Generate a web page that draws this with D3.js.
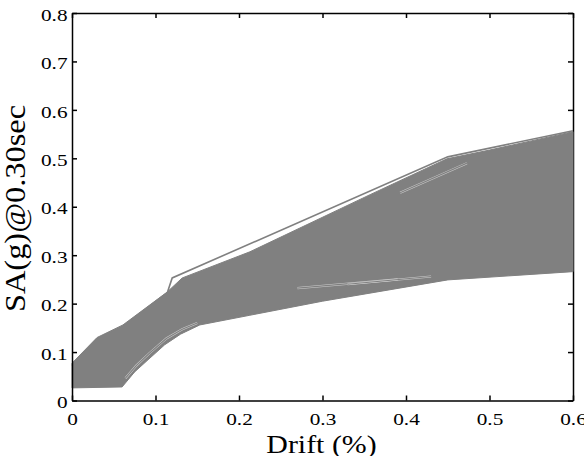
<!DOCTYPE html>
<meta charset="utf-8">
<script src="https://d3js.org/d3.v7.min.js"></script>
<style>
  body { margin: 0; background: #fff; }
  text { font-family: "Liberation Serif", "Times New Roman", serif; fill: #000; }
</style>
<svg id="chart" width="584" height="456"></svg>
<script>

// upper edge of the bundle of curves
var driftUpper = [0, 0.03, 0.061, 0.114, 0.132, 0.213, 0.357, 0.449, 0.5, 0.55, 0.6];
var saUpper    = [0.077, 0.13, 0.156, 0.224, 0.253, 0.307, 0.425, 0.499, 0.517, 0.536, 0.555];

// lower edge of the bundle
var driftLower = [0, 0.06, 0.075, 0.091, 0.111, 0.13, 0.153, 0.213, 0.3, 0.45, 0.6];
var saLower    = [0.026, 0.028, 0.059, 0.084, 0.115, 0.137, 0.156, 0.176, 0.205, 0.249, 0.266];

// the single curve that runs above the rest
var driftTop = [0, 0.03, 0.06, 0.114, 0.12, 0.45, 0.6];
var saTop    = [0.072, 0.127, 0.152, 0.222, 0.253, 0.503, 0.557];

// a few inner curves where gaps show through
var streaks = [
  { drift: [0.064, 0.077, 0.093, 0.113, 0.132, 0.15], sa: [0.046, 0.072, 0.098, 0.128, 0.147, 0.16] },
  { drift: [0.27, 0.39],  sa: [0.232, 0.25] },
  { drift: [0.33, 0.43],  sa: [0.24, 0.256] },
  { drift: [0.393, 0.473], sa: [0.429, 0.49] }
];

var xTicks = [0, 0.1, 0.2, 0.3, 0.4, 0.5, 0.6];
var yTicks = [0, 0.1, 0.2, 0.3, 0.4, 0.5, 0.6, 0.7, 0.8];

var svg = d3.select("#chart");
var plotL = 72, plotR = 573, plotT = 13, plotB = 400.5;
var gray = "#808080";

var x = d3.scaleLinear().domain([0, 0.6]).range([plotL, plotR]);
var y = d3.scaleLinear().domain([0, 0.8]).range([plotB, plotT]);

function pts(dr, sa) { return dr.map(function(d, i){ return [d, sa[i]]; }); }

var line = d3.line()
    .x(function(d){ return x(d[0]); })
    .y(function(d){ return y(d[1]); });

// top and right frame (under the data)
svg.append("g")
    .attr("transform", "translate(0," + plotT + ")")
    .call(d3.axisTop(x).tickValues(xTicks).tickSizeInner(-5).tickSizeOuter(0).tickFormat(""));
svg.append("g")
    .attr("transform", "translate(" + plotR + ",0)")
    .call(d3.axisRight(y).tickValues(yTicks).tickSizeInner(-5).tickSizeOuter(0).tickFormat(""));

// the band filled by all the curves
var band = pts(driftUpper, saUpper).concat(pts(driftLower, saLower).reverse());
svg.append("path")
    .attr("d", line(band) + "Z")
    .attr("fill", gray)
    .attr("stroke", gray)
    .attr("stroke-width", 1);

// inner curves with the thin white gaps beside them
streaks.forEach(function(s){
  var p = pts(s.drift, s.sa);
  svg.append("path").attr("d", line(p))
      .attr("fill", "none").attr("stroke", "#fff").attr("stroke-width", 2.2)
      .attr("stroke-opacity", 0.6);
  svg.append("path").attr("d", line(p))
      .attr("fill", "none").attr("stroke", gray).attr("stroke-width", 1.2);
});

// top curve
svg.append("path")
    .attr("d", line(pts(driftTop, saTop)))
    .attr("fill", "none")
    .attr("stroke", gray)
    .attr("stroke-width", 1.6);

// bottom and left axes (over the data)
var xAxis = svg.append("g")
    .attr("transform", "translate(0," + plotB + ")")
    .call(d3.axisBottom(x).tickValues(xTicks).tickSizeInner(-5).tickSizeOuter(0)
          .tickPadding(12.5).tickFormat(d3.format("")));
var yAxis = svg.append("g")
    .attr("transform", "translate(" + plotL + ",0)")
    .call(d3.axisLeft(y).tickValues(yTicks).tickSizeInner(-5).tickSizeOuter(0)
          .tickPadding(3.6).tickFormat(d3.format("")));

svg.selectAll(".domain, .tick line")
    .attr("stroke", "#000")
    .attr("stroke-width", 1.5);

xAxis.selectAll("text")
    .attr("font-size", 17)
    .attr("transform", "scale(1.25,1)");
yAxis.selectAll("text")
    .attr("font-size", 17)
    .attr("dy", "0.42em")
    .attr("transform", "scale(1.25,1)");

// axis titles
svg.append("text")
    .attr("transform", "translate(321.5,453) scale(1.15,1)")
    .attr("text-anchor", "middle")
    .attr("font-size", 26)
    .text("Drift (%)");

svg.append("text")
    .attr("transform", "translate(25,208.5) rotate(-90) scale(1.08,1)")
    .attr("text-anchor", "middle")
    .attr("font-size", 30)
    .text("SA(g)@0.30sec");

</script>
